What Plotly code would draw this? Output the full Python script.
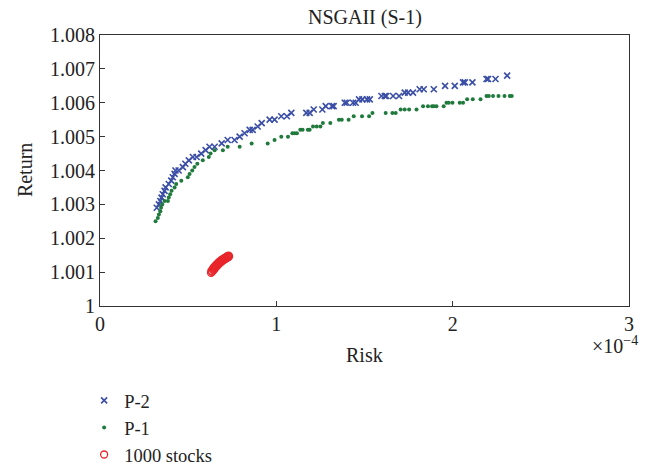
import plotly.graph_objects as go

# Risk values in units of 1e-4
p2_risk = [0.322, 0.334, 0.342, 0.349, 0.356, 0.366, 0.372, 0.390, 0.404, 0.413,
           0.423, 0.428, 0.446, 0.470, 0.484, 0.504, 0.527, 0.548, 0.574, 0.599,
           0.621, 0.650, 0.690, 0.724, 0.763, 0.792, 0.820, 0.849, 0.866, 0.894,
           0.917, 0.962, 0.990, 1.028, 1.060, 1.085, 1.170, 1.189, 1.212, 1.261,
           1.280, 1.316, 1.325, 1.388, 1.399, 1.435, 1.450, 1.469, 1.488, 1.514,
           1.530, 1.596, 1.615, 1.624, 1.662, 1.696, 1.728, 1.747, 1.775, 1.813,
           1.836, 1.893, 1.957, 2.012, 2.059, 2.069, 2.112, 2.192, 2.201, 2.243,
           2.309]
p2_return = [1.0029, 1.0030, 1.0031, 1.0032, 1.0033, 1.0034, 1.0035, 1.0036, 1.0037, 1.0038,
             1.0039, 1.0040, 1.0040, 1.0041, 1.0042, 1.0043, 1.0044, 1.0044, 1.0045, 1.0046,
             1.0047, 1.0047, 1.0048, 1.0049, 1.0049, 1.0050, 1.0051, 1.0052, 1.0052, 1.0053,
             1.0054, 1.0055, 1.0055, 1.0056, 1.0056, 1.0057, 1.0057, 1.0057, 1.0058, 1.0058,
             1.0059, 1.0059, 1.0059, 1.0060, 1.0060, 1.0060, 1.0060, 1.0061, 1.0061, 1.0061,
             1.0061, 1.0062, 1.0062, 1.0062, 1.0062, 1.0062, 1.0063, 1.0063, 1.0063, 1.0064,
             1.0064, 1.0064, 1.0065, 1.0065, 1.0066, 1.0066, 1.0066, 1.0067, 1.0067, 1.0067,
             1.0068]

p1_risk = [0.315, 0.328, 0.334, 0.342, 0.346, 0.353, 0.366, 0.385, 0.390, 0.398,
           0.406, 0.423, 0.432, 0.461, 0.498, 0.508, 0.523, 0.536, 0.552, 0.583,
           0.617, 0.627, 0.650, 0.697, 0.724, 0.792, 0.860, 0.951, 0.990, 1.028,
           1.066, 1.091, 1.104, 1.117, 1.136, 1.149, 1.179, 1.189, 1.208, 1.229,
           1.250, 1.264, 1.306, 1.355, 1.371, 1.410, 1.439, 1.486, 1.526, 1.545,
           1.620, 1.658, 1.677, 1.705, 1.728, 1.753, 1.795, 1.832, 1.860, 1.883,
           1.893, 1.908, 1.949, 1.965, 1.978, 1.999, 2.040, 2.059, 2.082, 2.114,
           2.158, 2.192, 2.205, 2.229, 2.260, 2.294, 2.324, 2.335]
p1_return = [1.0025, 1.0026, 1.0027, 1.0028, 1.0029, 1.0030, 1.0031, 1.0031, 1.0032, 1.0033,
             1.0034, 1.0035, 1.0036, 1.0037, 1.0038, 1.0039, 1.0040, 1.0041, 1.0042, 1.0043,
             1.0044, 1.0045, 1.0046, 1.0046, 1.0047, 1.0047, 1.0048, 1.0048, 1.0049, 1.0050,
             1.0050, 1.0051, 1.0051, 1.0051, 1.0052, 1.0052, 1.0052, 1.0052, 1.0053, 1.0053,
             1.0053, 1.0054, 1.0054, 1.0055, 1.0055, 1.0055, 1.0056, 1.0056, 1.0056, 1.0057,
             1.0057, 1.0057, 1.0057, 1.0058, 1.0058, 1.0058, 1.0058, 1.0059, 1.0059, 1.0059,
             1.0059, 1.0059, 1.0059, 1.0060, 1.0060, 1.0060, 1.0060, 1.0060, 1.0061, 1.0061,
             1.0061, 1.0062, 1.0062, 1.0062, 1.0062, 1.0062, 1.0062, 1.0062]

stocks_risk = [0.630, 0.632, 0.636, 0.640, 0.642, 0.645, 0.648, 0.650, 0.653, 0.656,
               0.658, 0.661, 0.664, 0.667, 0.670, 0.672, 0.675, 0.678, 0.681, 0.684,
               0.687, 0.690, 0.693, 0.696, 0.699, 0.702, 0.705, 0.708, 0.711, 0.714,
               0.717, 0.720, 0.723, 0.726, 0.729, 0.732]
stocks_return = [1.00098, 1.00104, 1.00101, 1.00108, 1.00112, 1.00106, 1.00115, 1.00110, 1.00118, 1.00114,
                 1.00121, 1.00117, 1.00124, 1.00120, 1.00127, 1.00123, 1.00130, 1.00126, 1.00132, 1.00129,
                 1.00135, 1.00131, 1.00137, 1.00134, 1.00139, 1.00136, 1.00141, 1.00138, 1.00143, 1.00140,
                 1.00145, 1.00142, 1.00147, 1.00144, 1.00149, 1.00146]

x_tickvals = [0, 1, 2, 3]
x_ticktext = ["0", "1", "2", "3"]
y_tickvals = [1.000, 1.001, 1.002, 1.003, 1.004, 1.005, 1.006, 1.007, 1.008]
y_ticktext = ["1", "1.001", "1.002", "1.003", "1.004", "1.005", "1.006", "1.007", "1.008"]

FONT = "Liberation Serif"
TXT = "#222222"
FS = 20

fig = go.Figure()
fig.add_trace(go.Scatter(
    x=p2_risk, y=p2_return, mode="markers", name="P-2",
    marker=dict(symbol="x-thin-open", size=6, color="#3a4ea6",
                line=dict(color="#3a4ea6", width=1.6))))
fig.add_trace(go.Scatter(
    x=p1_risk, y=p1_return, mode="markers", name="P-1",
    marker=dict(symbol="circle", size=4, color="#1f7a3c", line=dict(width=0))))
fig.add_trace(go.Scatter(
    x=stocks_risk, y=stocks_return, mode="markers", name="1000 stocks",
    marker=dict(symbol="circle-open", size=7, color="#e8262b",
                line=dict(color="#e8262b", width=1.3))))

axis_common = dict(showline=True, mirror=True, linecolor="#333333", linewidth=1,
                   ticks="inside", ticklen=5, tickcolor="#333333",
                   showgrid=False, zeroline=False, automargin=False,
                   tickfont=dict(family=FONT, size=FS, color=TXT))

fig.update_layout(
    width=648, height=466,
    margin=dict(l=100, r=19, t=35, b=160, autoexpand=False),
    paper_bgcolor="white", plot_bgcolor="white",
    font=dict(family=FONT, size=FS, color=TXT),
    xaxis=dict(range=[0, 3], tickvals=x_tickvals, ticktext=x_ticktext, **axis_common),
    yaxis=dict(range=[1.0, 1.008], tickvals=y_tickvals, ticktext=y_ticktext, **axis_common),
    showlegend=True,
    legend=dict(x=-0.03, y=-0.280, xanchor="left", yanchor="top",
                font=dict(family=FONT, size=18.5, color=TXT),
                bgcolor="rgba(0,0,0,0)", tracegroupgap=0),
    annotations=[
        dict(text="NSGAII (S-1)", xref="paper", yref="paper", x=0.5, y=(305.7 - 18) / 270.7,
             xanchor="center", yanchor="middle", showarrow=False,
             font=dict(family=FONT, size=FS, color=TXT)),
        dict(text="Risk", xref="paper", yref="paper", x=0.5, y=-0.182,
             xanchor="center", yanchor="middle", showarrow=False,
             font=dict(family=FONT, size=FS, color=TXT)),
        dict(text="Return", xref="paper", yref="paper", x=-0.142, y=0.501,
             xanchor="center", yanchor="middle", showarrow=False, textangle=-90,
             font=dict(family=FONT, size=FS, color=TXT)),
        dict(text="×10<sup>−4</sup>", xref="paper", yref="paper", x=1.02, y=-0.145,
             xanchor="right", yanchor="middle", showarrow=False,
             font=dict(family=FONT, size=FS, color=TXT)),
    ],
)

fig.write_html("out.html")
